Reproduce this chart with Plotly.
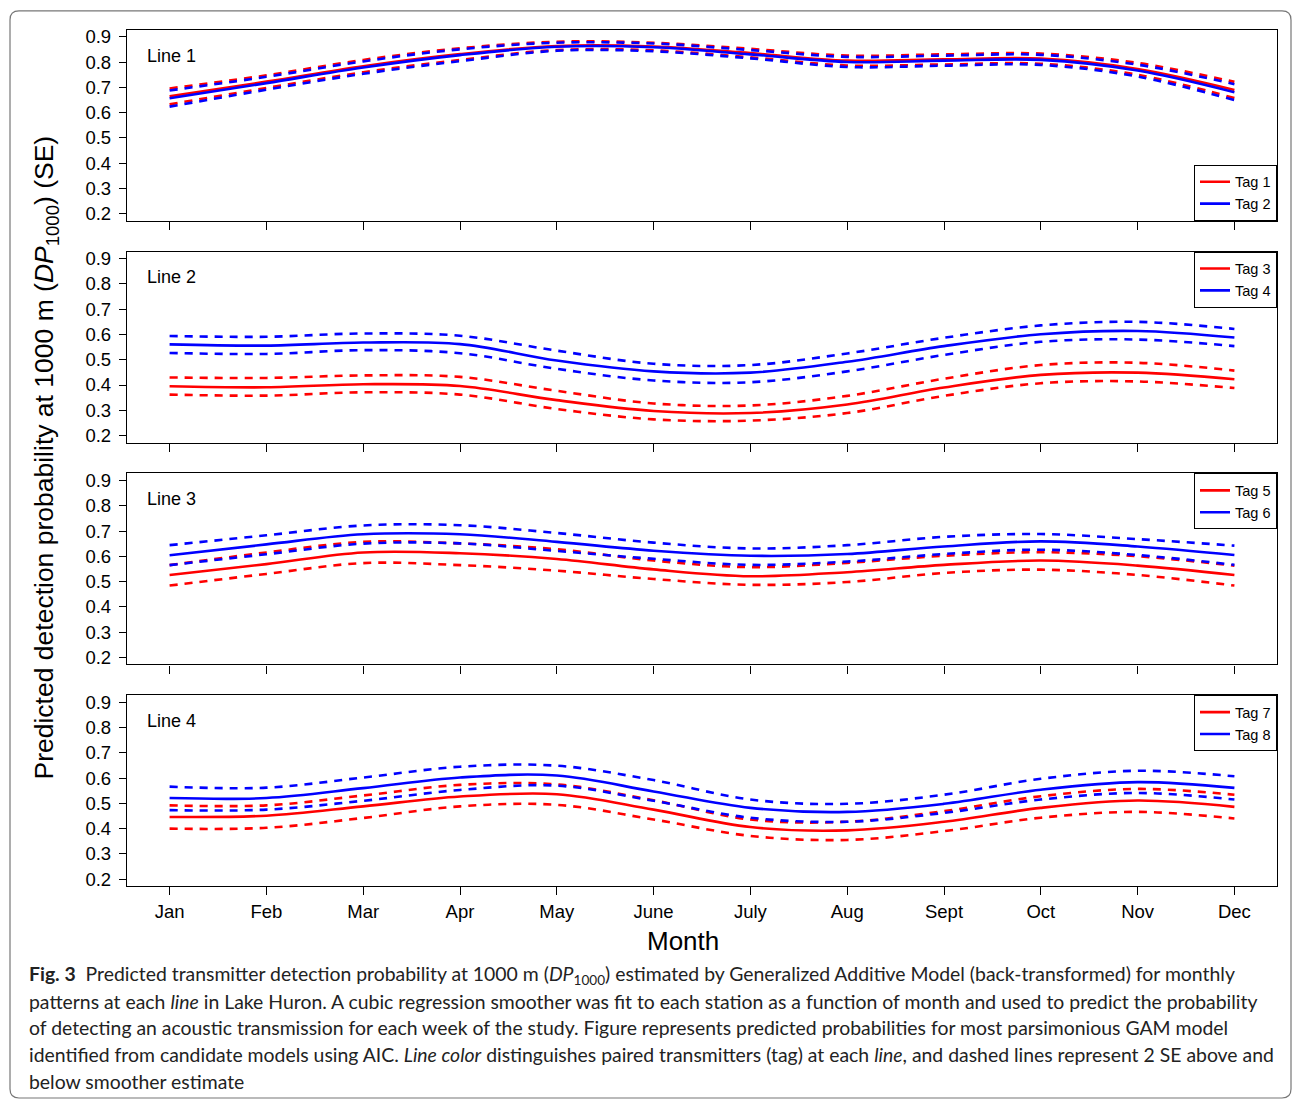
import plotly.graph_objects as go

# ---------------- data ----------------
months = [1, 2, 3, 4, 5, 6, 7, 8, 9, 10, 11, 12]
month_labels = ["Jan", "Feb", "Mar", "Apr", "May", "June", "July", "Aug", "Sept", "Oct", "Nov", "Dec"]
y_ticks = [0.2, 0.3, 0.4, 0.5, 0.6, 0.7, 0.8, 0.9]
panel_names = ["Line 1", "Line 2", "Line 3", "Line 4"]
tag_names = [["Tag 1", "Tag 2"], ["Tag 3", "Tag 4"], ["Tag 5", "Tag 6"], ["Tag 7", "Tag 8"]]

# Line 1
tag1_fit = [0.665, 0.723, 0.784, 0.832, 0.864, 0.862, 0.836, 0.806, 0.811, 0.814, 0.773, 0.690]
tag1_upper = [0.696, 0.748, 0.809, 0.855, 0.881, 0.877, 0.853, 0.826, 0.831, 0.834, 0.797, 0.722]
tag1_lower = [0.633, 0.698, 0.760, 0.809, 0.848, 0.847, 0.819, 0.787, 0.791, 0.794, 0.750, 0.658]
tag2_fit = [0.657, 0.717, 0.779, 0.828, 0.861, 0.859, 0.831, 0.801, 0.806, 0.809, 0.767, 0.681]
tag2_upper = [0.688, 0.742, 0.803, 0.851, 0.877, 0.874, 0.848, 0.821, 0.826, 0.829, 0.790, 0.713]
tag2_lower = [0.624, 0.691, 0.754, 0.804, 0.845, 0.843, 0.815, 0.781, 0.786, 0.789, 0.743, 0.650]

# Line 2
tag3_fit = [0.395, 0.391, 0.403, 0.396, 0.340, 0.297, 0.289, 0.323, 0.390, 0.440, 0.449, 0.423]
tag3_upper = [0.430, 0.428, 0.438, 0.432, 0.377, 0.327, 0.319, 0.357, 0.425, 0.479, 0.488, 0.457]
tag3_lower = [0.362, 0.358, 0.371, 0.362, 0.305, 0.264, 0.259, 0.289, 0.357, 0.407, 0.414, 0.388]
tag4_fit = [0.561, 0.556, 0.568, 0.562, 0.497, 0.454, 0.449, 0.492, 0.554, 0.601, 0.614, 0.588]
tag4_upper = [0.594, 0.591, 0.604, 0.595, 0.536, 0.484, 0.479, 0.525, 0.587, 0.636, 0.650, 0.622]
tag4_lower = [0.527, 0.523, 0.538, 0.526, 0.464, 0.418, 0.411, 0.454, 0.519, 0.571, 0.580, 0.554]

# Line 3
tag5_fit = [0.526, 0.569, 0.615, 0.612, 0.589, 0.548, 0.521, 0.537, 0.566, 0.583, 0.563, 0.526]
tag5_upper = [0.565, 0.615, 0.657, 0.651, 0.628, 0.583, 0.557, 0.574, 0.602, 0.616, 0.600, 0.563]
tag5_lower = [0.484, 0.530, 0.573, 0.565, 0.543, 0.510, 0.487, 0.498, 0.534, 0.547, 0.526, 0.484]
tag6_fit = [0.604, 0.647, 0.687, 0.687, 0.657, 0.622, 0.602, 0.609, 0.639, 0.659, 0.639, 0.605]
tag6_upper = [0.644, 0.683, 0.722, 0.723, 0.692, 0.654, 0.631, 0.644, 0.677, 0.688, 0.668, 0.642]
tag6_lower = [0.565, 0.608, 0.650, 0.651, 0.621, 0.590, 0.566, 0.579, 0.609, 0.626, 0.605, 0.566]

# Line 4
tag7_fit = [0.446, 0.451, 0.488, 0.527, 0.536, 0.475, 0.406, 0.393, 0.427, 0.482, 0.511, 0.486]
tag7_upper = [0.492, 0.492, 0.531, 0.573, 0.575, 0.512, 0.436, 0.427, 0.469, 0.528, 0.557, 0.534]
tag7_lower = [0.400, 0.403, 0.442, 0.488, 0.494, 0.436, 0.371, 0.355, 0.390, 0.443, 0.466, 0.440]
tag8_fit = [0.521, 0.521, 0.560, 0.602, 0.610, 0.547, 0.482, 0.466, 0.498, 0.554, 0.584, 0.561]
tag8_upper = [0.566, 0.562, 0.602, 0.645, 0.649, 0.592, 0.515, 0.498, 0.534, 0.597, 0.629, 0.607]
tag8_lower = [0.473, 0.475, 0.510, 0.553, 0.570, 0.510, 0.443, 0.427, 0.462, 0.515, 0.541, 0.515]

panels = [
    [(tag1_fit, tag1_upper, tag1_lower), (tag2_fit, tag2_upper, tag2_lower)],
    [(tag3_fit, tag3_upper, tag3_lower), (tag4_fit, tag4_upper, tag4_lower)],
    [(tag5_fit, tag5_upper, tag5_lower), (tag6_fit, tag6_upper, tag6_lower)],
    [(tag7_fit, tag7_upper, tag7_lower), (tag8_fit, tag8_upper, tag8_lower)],
]

# ---------------- layout geometry ----------------
W, H = 1293, 1103
def px_x(p):
    return p / W
def px_y(p):
    return 1 - p / H

x_dom = [px_x(127), px_x(1277)]
panel_px = [(27, 219), (250, 442), (473, 665), (696, 888)]
colors = ["#ff0000", "#0000ff"]
FONT = "Liberation Sans, Arial, sans-serif"

fig = go.Figure()
layout = dict(
    width=W, height=H,
    margin=dict(l=0, r=0, t=0, b=0),
    paper_bgcolor="white", plot_bgcolor="white",
    font=dict(family=FONT, color="black", size=18),
    showlegend=True,
)

annotations = []
for i, (top, bot) in enumerate(panel_px):
    n = "" if i == 0 else str(i + 1)
    xa = "x" + n
    ya = "y" + n
    leg = "legend" + n
    for j, (fit, up, lo) in enumerate(panels[i]):
        for arr in (up, lo):
            fig.add_trace(go.Scatter(
                x=months, y=arr, xaxis=xa, yaxis=ya, mode="lines",
                line=dict(color=colors[j], width=2.6, dash="8px,7px", shape="spline", smoothing=1.0),
                showlegend=False, hoverinfo="skip", legend=leg,
            ))
        fig.add_trace(go.Scatter(
            x=months, y=fit, xaxis=xa, yaxis=ya, mode="lines",
            line=dict(color=colors[j], width=2.6, shape="spline", smoothing=1.0),
            name=tag_names[i][j], showlegend=True, legend=leg,
        ))
    layout["xaxis" + n] = dict(
        domain=x_dom, range=[0.56, 12.44], anchor=ya,
        tickmode="array", tickvals=months, ticktext=month_labels,
        showticklabels=(i == 3), ticks="outside", ticklen=8, tickwidth=1.2,
        tickcolor="black", showline=True, linecolor="black", linewidth=1.3,
        mirror=True, showgrid=False, zeroline=False,
        tickfont=dict(family=FONT, size=18.5),
    )
    layout["yaxis" + n] = dict(
        domain=[px_y(bot), px_y(top)], range=[0.172, 0.928], anchor=xa,
        tickmode="array", tickvals=y_ticks, ticktext=[f"{v:.1f}" for v in y_ticks],
        ticks="outside", ticklen=7, tickwidth=1.2, tickcolor="black",
        showline=True, linecolor="black", linewidth=1.3, mirror=True,
        showgrid=False, zeroline=False, ticklabelstandoff=4,
        tickfont=dict(family=FONT, size=18.5),
    )
    if i == 0:
        lg = dict(x=x_dom[1], xanchor="right", y=px_y(bot), yanchor="bottom")
    else:
        lg = dict(x=x_dom[1], xanchor="right", y=px_y(top), yanchor="top")
    lg.update(bgcolor="white", bordercolor="black", borderwidth=1,
              font=dict(family=FONT, size=14.5), itemwidth=30, tracegroupgap=0)
    layout[leg] = lg
    annotations.append(dict(
        x=px_x(145), y=px_y(top + 26), xref="paper", yref="paper",
        text=panel_names[i], showarrow=False, xanchor="left", yanchor="middle",
        font=dict(family=FONT, size=18),
    ))

# axis titles
annotations.append(dict(
    x=px_x(46), y=px_y(457), xref="paper", yref="paper", textangle=-90,
    text="Predicted detection probability at 1000 m (<i>DP</i><sub>1000</sub>) (SE)",
    showarrow=False, xanchor="center", yanchor="middle",
    font=dict(family=FONT, size=26.5),
))
annotations.append(dict(
    x=px_x(683), y=px_y(943), xref="paper", yref="paper", text="Month",
    showarrow=False, xanchor="center", yanchor="middle",
    font=dict(family=FONT, size=26),
))

# caption
caption_lines = [
    "<b>Fig. 3</b>  Predicted transmitter detection probability at 1000 m (<i>DP</i><sub>1000</sub>) estimated by Generalized Additive Model (back-transformed) for monthly",
    "patterns at each <i>line</i> in Lake Huron. A cubic regression smoother was fit to each station as a function of month and used to predict the probability",
    "of detecting an acoustic transmission for each week of the study. Figure represents predicted probabilities for most parsimonious GAM model",
    "identified from candidate models using AIC. <i>Line color</i> distinguishes paired transmitters (tag) at each <i>line</i>, and dashed lines represent 2 SE above and",
    "below smoother estimate",
]
caption_y = [977, 1004, 1030, 1057, 1084]
for txt, yy in zip(caption_lines, caption_y):
    annotations.append(dict(
        x=px_x(27), y=px_y(yy), xref="paper", yref="paper", text=txt,
        showarrow=False, xanchor="left", yanchor="middle",
        font=dict(family="Lato, Open Sans, sans-serif", size=19.4, color="#222"),
    ))

layout["annotations"] = annotations

# rounded border around the figure
x0, x1 = px_x(10), px_x(1291)
y0, y1 = px_y(8), px_y(1101)
rx, ry = 9 / W, 9 / H
path = (f"M{x0 + rx},{y0} L{x1 - rx},{y0} Q{x1},{y0} {x1},{y0 - ry} "
        f"L{x1},{y1 + ry} Q{x1},{y1} {x1 - rx},{y1} "
        f"L{x0 + rx},{y1} Q{x0},{y1} {x0},{y1 + ry} "
        f"L{x0},{y0 - ry} Q{x0},{y0} {x0 + rx},{y0} Z")
layout["shapes"] = [dict(type="path", xref="paper", yref="paper", path=path,
                         line=dict(color="#777777", width=1.2), layer="below")]

fig.update_layout(**layout)
fig.write_html("out.html")
